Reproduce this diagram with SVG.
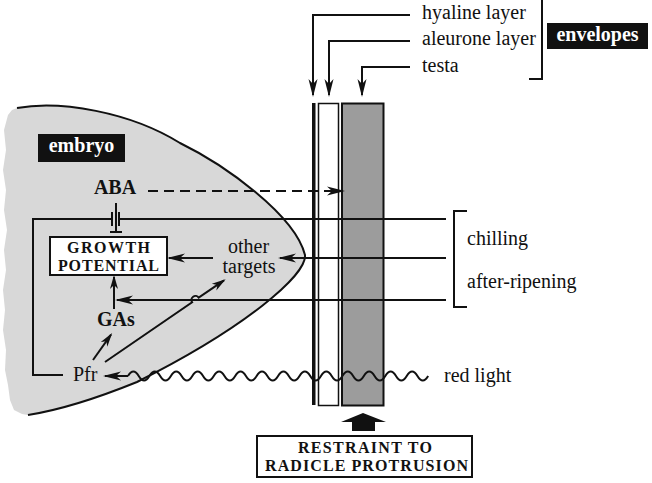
<svg xmlns="http://www.w3.org/2000/svg" width="652" height="483" viewBox="0 0 652 483">
<style>
.t{font-family:"Liberation Serif","Times New Roman",serif;font-size:20px;fill:#111}
.b{font-family:"Liberation Serif","Times New Roman",serif;font-weight:bold;fill:#111}
.w{font-family:"Liberation Serif","Times New Roman",serif;font-weight:bold;font-size:20px;fill:#fff}
.ln{fill:none;stroke:#111;stroke-width:2}
.box{fill:#fff;stroke:#111;stroke-width:2}
</style>
<defs>
<marker id="ah" markerUnits="userSpaceOnUse" markerWidth="20" markerHeight="10" refX="16" refY="5" orient="auto" overflow="visible">
<path d="M18,5 L0,0.5 L5,5 L0,9.5 Z" fill="#111"/>
</marker>
<marker id="as" markerUnits="userSpaceOnUse" markerWidth="16" markerHeight="8" refX="12" refY="4" orient="auto" overflow="visible">
<path d="M14,4 L0,0 L4,4 L0,8 Z" fill="#111"/>
</marker>
</defs>
<rect width="652" height="483" fill="#fff"/>
<g id="embryo">
<path d="M17,108 C60,100 130,112 180,143 C225,165 295,215 305,255 C307,275 245,328 137,382 C100,397 60,410 28,415 L22,414 L14,410 L10,400 L8,385 L5,370 L6,350 L3,330 L5,310 L3,290 L6,270 L4,250 L7,230 L4,210 L6,190 L3,170 L6,150 L4,130 L8,115 L12,110 Z" fill="#d8d8d8"/>
<path d="M17,108 C60,100 130,112 180,143 C225,165 295,215 305,255 C307,275 245,328 137,382 C100,397 60,410 28,415" fill="none" stroke="#111" stroke-width="2"/>
<rect x="38" y="134" width="87" height="28" fill="#111"/>
<text class="w" x="81.5" y="152" text-anchor="middle">embryo</text>
</g>
<g id="layers">
<rect x="312" y="103" width="3.5" height="302" fill="#111"/>
<rect x="318.5" y="103.5" width="20" height="302" fill="#fff" stroke="#111" stroke-width="1.5"/>
<rect x="342" y="103.5" width="41.5" height="302" fill="#9c9c9c" stroke="#111" stroke-width="2"/>
</g>
<g id="aba"><text class="b" x="115" y="194" font-size="20" text-anchor="middle">ABA</text></g>
<g id="growth">
<rect class="box" x="50" y="237" width="117" height="38"/>
<text class="b" x="67" y="253" font-size="16" textLength="83" lengthAdjust="spacing">GROWTH</text>
<text class="b" x="58" y="271" font-size="16" textLength="101" lengthAdjust="spacing">POTENTIAL</text>
</g>
<g id="other"><text class="t" x="248.5" y="253" text-anchor="middle">other</text><text class="t" x="249" y="273" text-anchor="middle">targets</text></g>
<g id="gas"><text class="b" x="97" y="326" font-size="20">GAs</text></g>
<g id="pfr"><text class="t" x="73" y="381">Pfr</text></g>
<g id="labels-top">
<text class="t" x="422" y="19">hyaline layer</text>
<text class="t" x="422" y="45">aleurone layer</text>
<text class="t" x="422" y="72">testa</text>
</g>
<g id="envelopes">
<path class="ln" d="M542,-3 V79 H529"/>
<rect x="547" y="23" width="101" height="26" fill="#111"/>
<text class="w" x="597.5" y="41" text-anchor="middle">envelopes</text>
</g>
<g id="treatments">
<path class="ln" d="M467,211 H454 V307 H467"/>
<text class="t" x="467" y="245">chilling</text>
<text class="t" x="467" y="288">after-ripening</text>
</g>
<g id="redlight"><text class="t" x="444" y="382">red light</text></g>
<g id="restraint">
<polygon points="363,413 386,422 375,422 375,431 352,431 352,422 341,422" fill="#111"/>
<rect class="box" x="257" y="436" width="215" height="41"/>
<text class="b" x="298" y="453" font-size="16" textLength="134" lengthAdjust="spacing">RESTRAINT TO</text>
<text class="b" x="265" y="471" font-size="16" textLength="203" lengthAdjust="spacing">RADICLE PROTRUSION</text>
</g>
<g id="connectors">
<path class="ln" d="M410,15 H313 V95" marker-end="url(#ah)"/>
<path class="ln" d="M410,41 H329 V95" marker-end="url(#ah)"/>
<path class="ln" d="M410,67 H362 V95" marker-end="url(#ah)"/>
<path class="ln" d="M148,191 H343" stroke-dasharray="10,6" marker-end="url(#ah)"/>
<path class="ln" d="M119,219 H446"/>
<path class="ln" d="M112,219 H33 V375 H63"/>
<path class="ln" d="M112,212 V226 M119,212 V226"/>
<path class="ln" d="M116,203 V232 M110,232 H122"/>
<path class="ln" d="M446,258 H280" marker-end="url(#ah)"/>
<path class="ln" d="M213,258 H169" marker-end="url(#ah)"/>
<path class="ln" d="M446,300 H117" marker-end="url(#ah)"/>
<path class="ln" d="M114,309 V277" marker-end="url(#as)"/>
<path class="ln" d="M93,360 L111,334.6" marker-end="url(#as)"/>
<path class="ln" d="M105,362 L192.1,302.3 A4,4 0 0 1 198.7,297.7 L224,280.4" marker-end="url(#as)"/>
<path class="ln" d="M128,376 H105" marker-end="url(#ah)"/>
<path class="ln" stroke-width="1.8" d="M128,376 q5.36,-9 10.72,0 t10.72,0 t10.72,0 t10.72,0 t10.72,0 t10.72,0 t10.72,0 t10.72,0 t10.72,0 t10.72,0 t10.72,0 t10.72,0 t10.72,0 t10.72,0 t10.72,0 t10.72,0 t10.72,0 t10.72,0 t10.72,0 t10.72,0 t10.72,0 t10.72,0 t10.72,0 t10.72,0 t10.72,0 t10.72,0 t10.72,0 t10.72,0"/>
</g>
</svg>
